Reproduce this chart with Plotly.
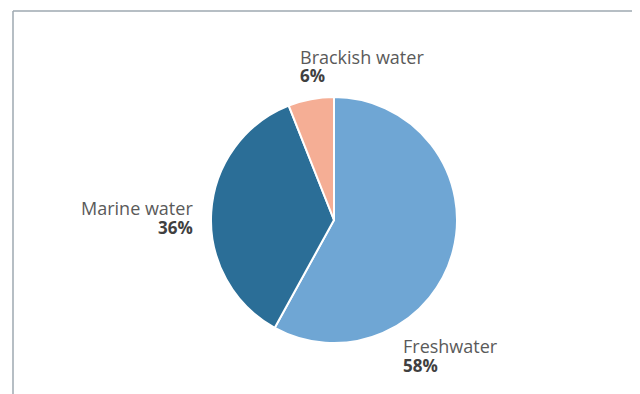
import plotly.graph_objects as go

categories = ["Freshwater", "Marine water", "Brackish water"]
shares = [58, 36, 6]
colors = ["#6fa6d4", "#2b6e97", "#f5ae95"]

# page body has an 8px margin; work in window pixels and shift
OFF = 8
W, H = 640 - OFF, 394 - OFF
cx, cy, r = 334 - OFF, 220 - OFF, 123

fig = go.Figure(go.Pie(
    labels=categories, values=shares, sort=False, direction="clockwise",
    rotation=0, textinfo="none", hoverinfo="label+percent",
    marker=dict(colors=colors, line=dict(color="white", width=2)),
    domain=dict(x=[(cx - r) / W, (cx + r) / W], y=[(H - cy - r) / H, (H - cy + r) / H]),
    showlegend=False,
))

def px(x):
    return (x - OFF) / W

def py(y):
    return (H - (y - OFF)) / H

label_pos = {
    "Brackish water": (298, 57, "left"),
    "Marine water": (195, 208, "right"),
    "Freshwater": (401, 346, "left"),
}
name_font = dict(family="Open Sans, Noto Sans, sans-serif", size=18, color="#5a5a5a")
pct_font = dict(family="Open Sans, Noto Sans, sans-serif", size=17, color="#404040")

annotations = []
for cat, val in zip(categories, shares):
    x, y, anchor = label_pos[cat]
    annotations.append(dict(x=px(x), y=py(y), xref="paper", yref="paper", text=cat,
                            showarrow=False, xanchor=anchor, yanchor="middle", font=name_font))
    annotations.append(dict(x=px(x), y=py(y + 19), xref="paper", yref="paper",
                            text=f"<b>{val}%</b>", showarrow=False, xanchor=anchor,
                            yanchor="middle", font=pct_font))

frame = "#9ea8b0"
shapes = [
    dict(type="line", xref="paper", yref="paper", x0=px(13), x1=1.0, y0=py(11), y1=py(11),
         line=dict(color=frame, width=1.5)),
    dict(type="line", xref="paper", yref="paper", x0=px(13), x1=px(13), y0=py(11), y1=0,
         line=dict(color=frame, width=1.5)),
]

fig.update_layout(width=W, height=H, margin=dict(l=0, r=0, t=0, b=0),
                  paper_bgcolor="white", plot_bgcolor="white",
                  annotations=annotations, shapes=shapes)
fig.write_html("out.html")
